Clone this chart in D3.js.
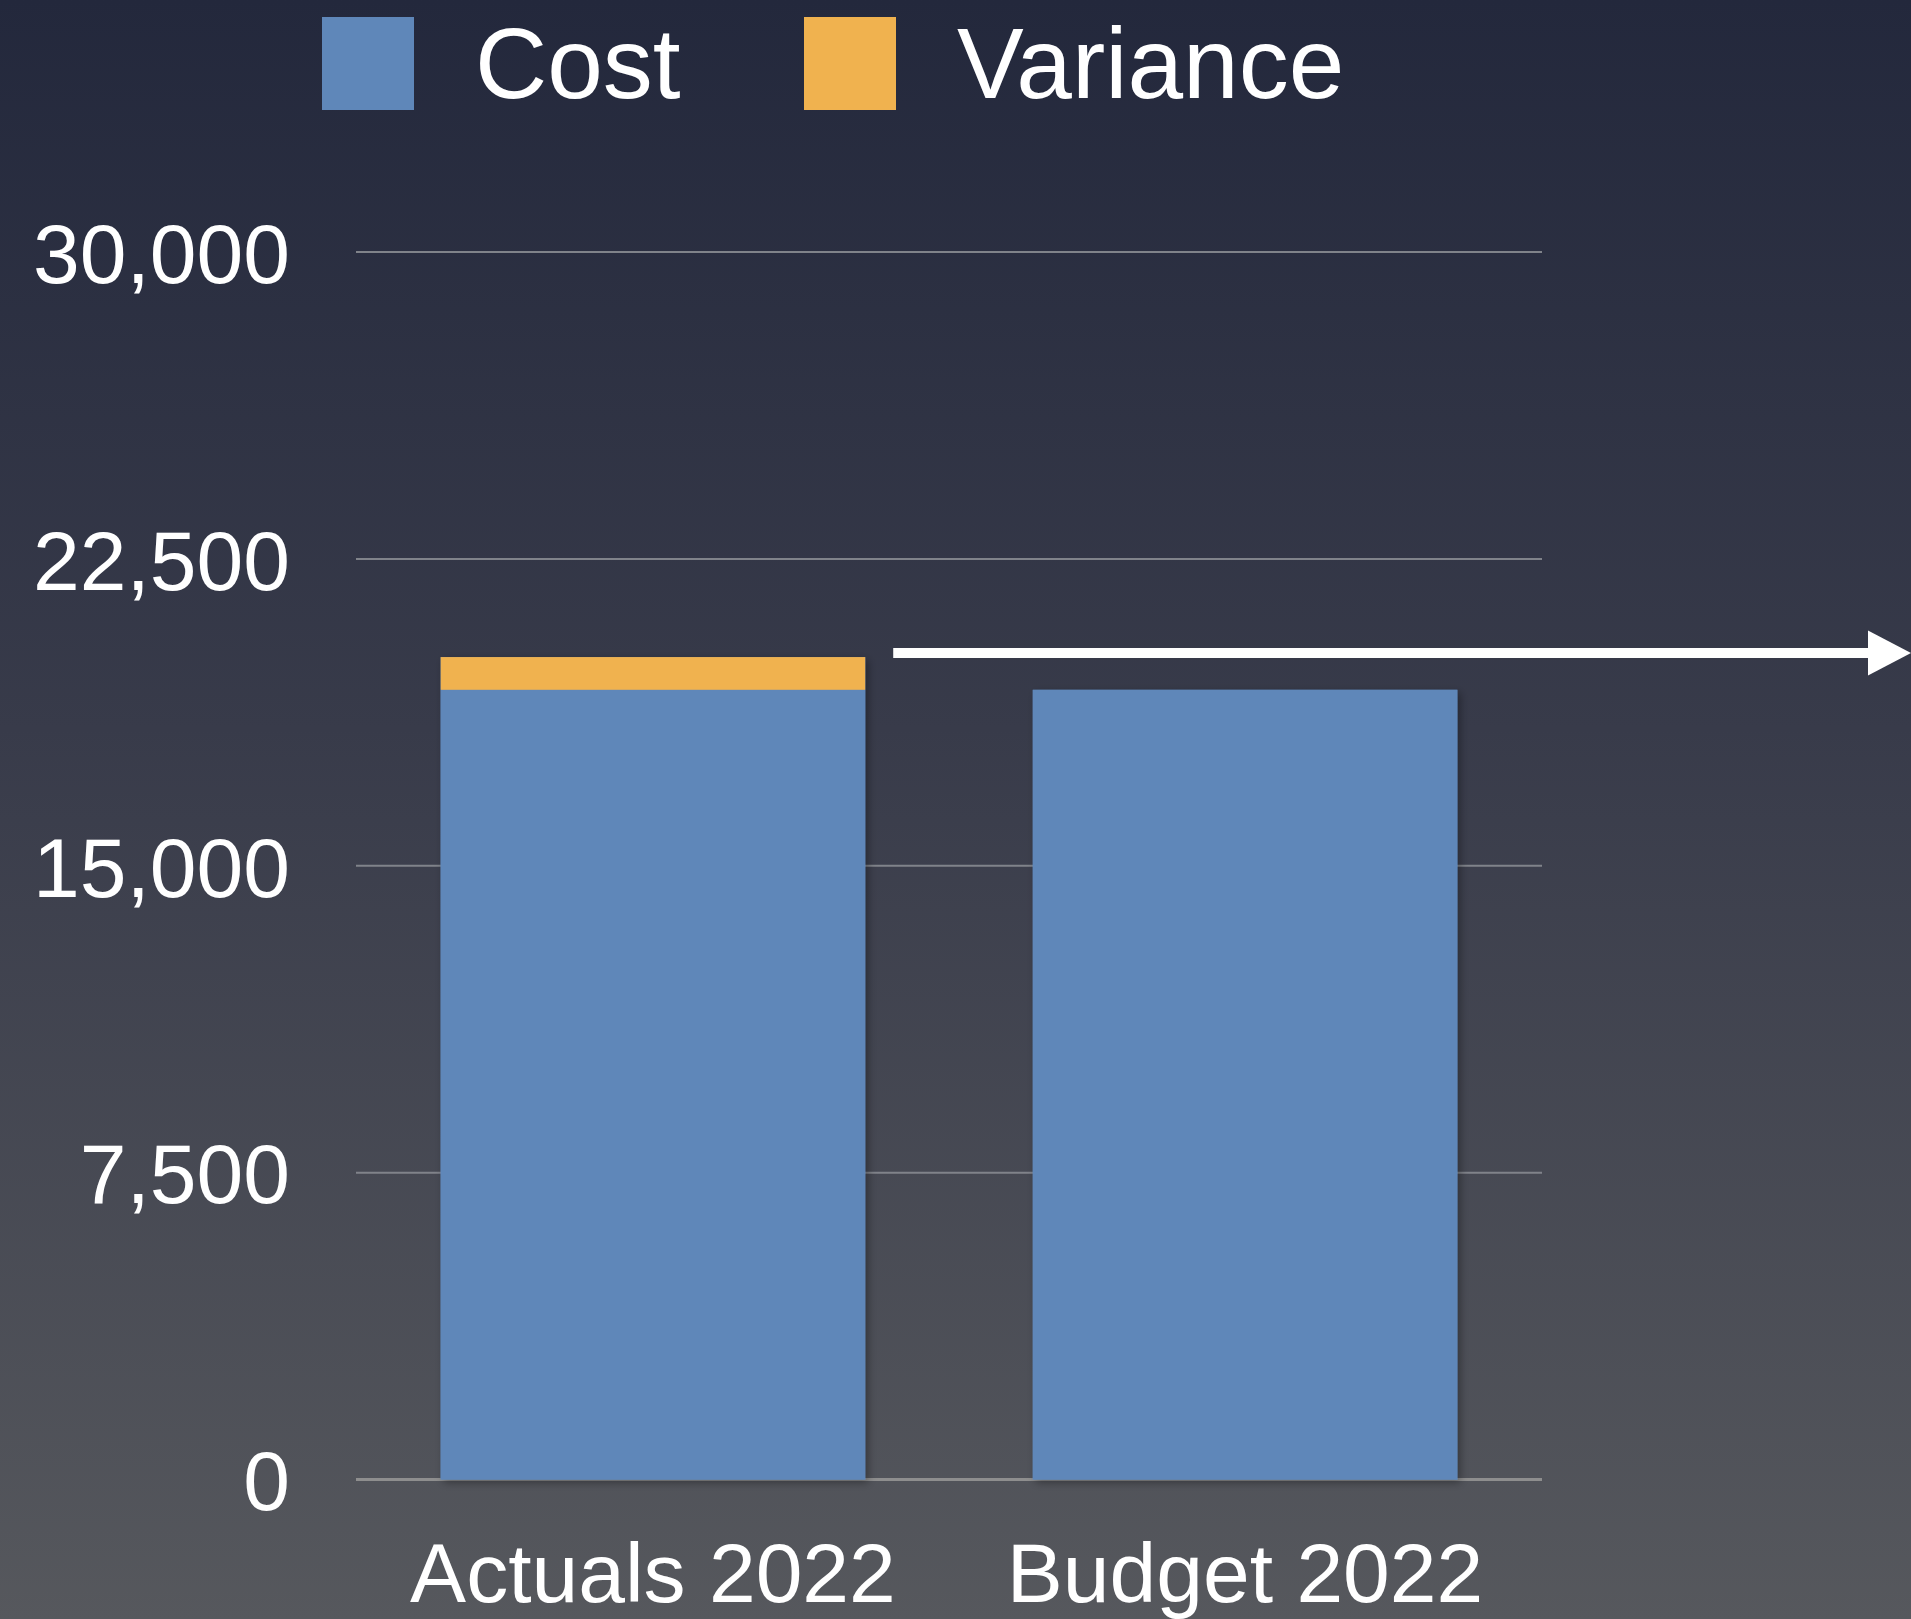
<!DOCTYPE html>
<html>
<head>
<meta charset="utf-8">
<script src="https://cdn.jsdelivr.net/npm/d3@7"></script>
<style>
  html, body { margin: 0; padding: 0; overflow: hidden; }
  body { width: 1911px; height: 1619px; }
  text { font-family: "Liberation Sans", Arial, sans-serif; fill: #fff; }
</style>
</head>
<body>
<script>
// data
const categories = ["Actuals 2022", "Budget 2022"];
const cost = [19300, 19300];
const variance = [800, 0];
const yTicks = [0, 7500, 15000, 22500, 30000];
const seriesNames = ["Cost", "Variance"];
const seriesColors = ["#5f87b9", "#f0b24f"];

const width = 1911, height = 1619;
const margin = { top: 252, right: 369, bottom: 139, left: 356 };

const svg = d3.select("body").append("svg")
  .attr("width", width)
  .attr("height", height);

const defs = svg.append("defs");
const grad = defs.append("linearGradient")
  .attr("id", "bg").attr("x1", 0).attr("y1", 0).attr("x2", 0).attr("y2", 1);
grad.append("stop").attr("offset", "0%").attr("stop-color", "#23283c");
grad.append("stop").attr("offset", "45%").attr("stop-color", "#383b4a");
grad.append("stop").attr("offset", "100%").attr("stop-color", "#56585d");

const shadow = defs.append("filter").attr("id", "shadow")
  .attr("x", "-10%").attr("y", "-10%").attr("width", "130%").attr("height", "130%");
shadow.append("feDropShadow")
  .attr("dx", 3).attr("dy", 3).attr("stdDeviation", 4)
  .attr("flood-color", "#000").attr("flood-opacity", 0.35);

svg.append("rect").attr("width", width).attr("height", height).attr("fill", "url(#bg)");

const xScale = d3.scaleBand()
  .domain(categories)
  .range([margin.left, width - margin.right])
  .paddingInner(0.283)
  .paddingOuter(0.143);

const yScale = d3.scaleLinear()
  .domain([0, 30000])
  .range([height - margin.bottom - 0.5, margin.top]);

// gridlines
svg.append("g")
  .selectAll("line")
  .data(yTicks)
  .join("line")
  .attr("x1", margin.left)
  .attr("x2", width - margin.right)
  .attr("y1", d => yScale(d))
  .attr("y2", d => yScale(d))
  .attr("stroke", d => d === 0 ? "#8e8e8e" : "#80838a")
  .attr("stroke-width", d => d === 0 ? 3 : 2);

// y axis labels
const yAxis = svg.append("g")
  .attr("transform", "translate(" + (margin.left - 66) + ",0)")
  .call(d3.axisLeft(yScale).tickValues(yTicks).tickSize(0).tickPadding(0).tickFormat(d3.format(",")));
yAxis.select(".domain").remove();
yAxis.selectAll("text")
  .attr("font-size", 84)
  .attr("dy", "0.36em")
  .style("font-family", "'Liberation Sans', Arial, sans-serif")
  .attr("fill", "#fff");

// stacked bars
const stackData = categories.map((c, i) => ({ cat: c, Cost: cost[i], Variance: variance[i] }));
const stacked = d3.stack().keys(seriesNames)(stackData);

// soft shadow behind each whole bar
svg.append("g")
  .selectAll("rect")
  .data(stackData)
  .join("rect")
  .attr("x", d => xScale(d.cat))
  .attr("width", xScale.bandwidth())
  .attr("y", d => yScale(d.Cost + d.Variance))
  .attr("height", d => yScale(0) - yScale(d.Cost + d.Variance))
  .attr("fill", seriesColors[0])
  .attr("filter", "url(#shadow)");

svg.append("g")
  .selectAll("g")
  .data(stacked)
  .join("g")
  .attr("fill", (d, i) => seriesColors[i])
  .selectAll("rect")
  .data(d => d.filter(p => p[1] > p[0]))
  .join("rect")
  .attr("x", d => xScale(d.data.cat))
  .attr("width", xScale.bandwidth())
  .attr("y", d => yScale(d[1]))
  .attr("height", d => yScale(d[0]) - yScale(d[1]));

// x axis labels
const xAxis = svg.append("g")
  .attr("transform", "translate(0," + (height - margin.bottom) + ")")
  .call(d3.axisBottom(xScale).tickSize(0).tickPadding(0));
xAxis.select(".domain").remove();
xAxis.selectAll("text")
  .attr("font-size", 84)
  .attr("dy", 0)
  .attr("y", 122)
  .style("font-family", "'Liberation Sans', Arial, sans-serif")
  .attr("fill", "#fff");

// arrow from actual total to the right
const arrowY = yScale(cost[0] + variance[0]) - 4;
const arrowX0 = xScale(categories[0]) + xScale.bandwidth() + 28;
svg.append("line")
  .attr("x1", arrowX0).attr("x2", width - 40)
  .attr("y1", arrowY).attr("y2", arrowY)
  .attr("stroke", "#fff").attr("stroke-width", 10);
svg.append("path")
  .attr("d", d3.line()([[width - 43, arrowY - 22.5], [width, arrowY], [width - 43, arrowY + 22.5]]))
  .attr("fill", "#fff");

// legend
const legendX = [322, 804];
const legend = svg.append("g")
  .selectAll("g")
  .data(seriesNames)
  .join("g")
  .attr("transform", (d, i) => "translate(" + legendX[i] + ",17)");
legend.append("rect")
  .attr("width", 92).attr("height", 93)
  .attr("fill", (d, i) => seriesColors[i]);
legend.append("text")
  .attr("x", 153).attr("y", 81)
  .attr("font-size", 100)
  .text(d => d);
</script>
</body>
</html>
